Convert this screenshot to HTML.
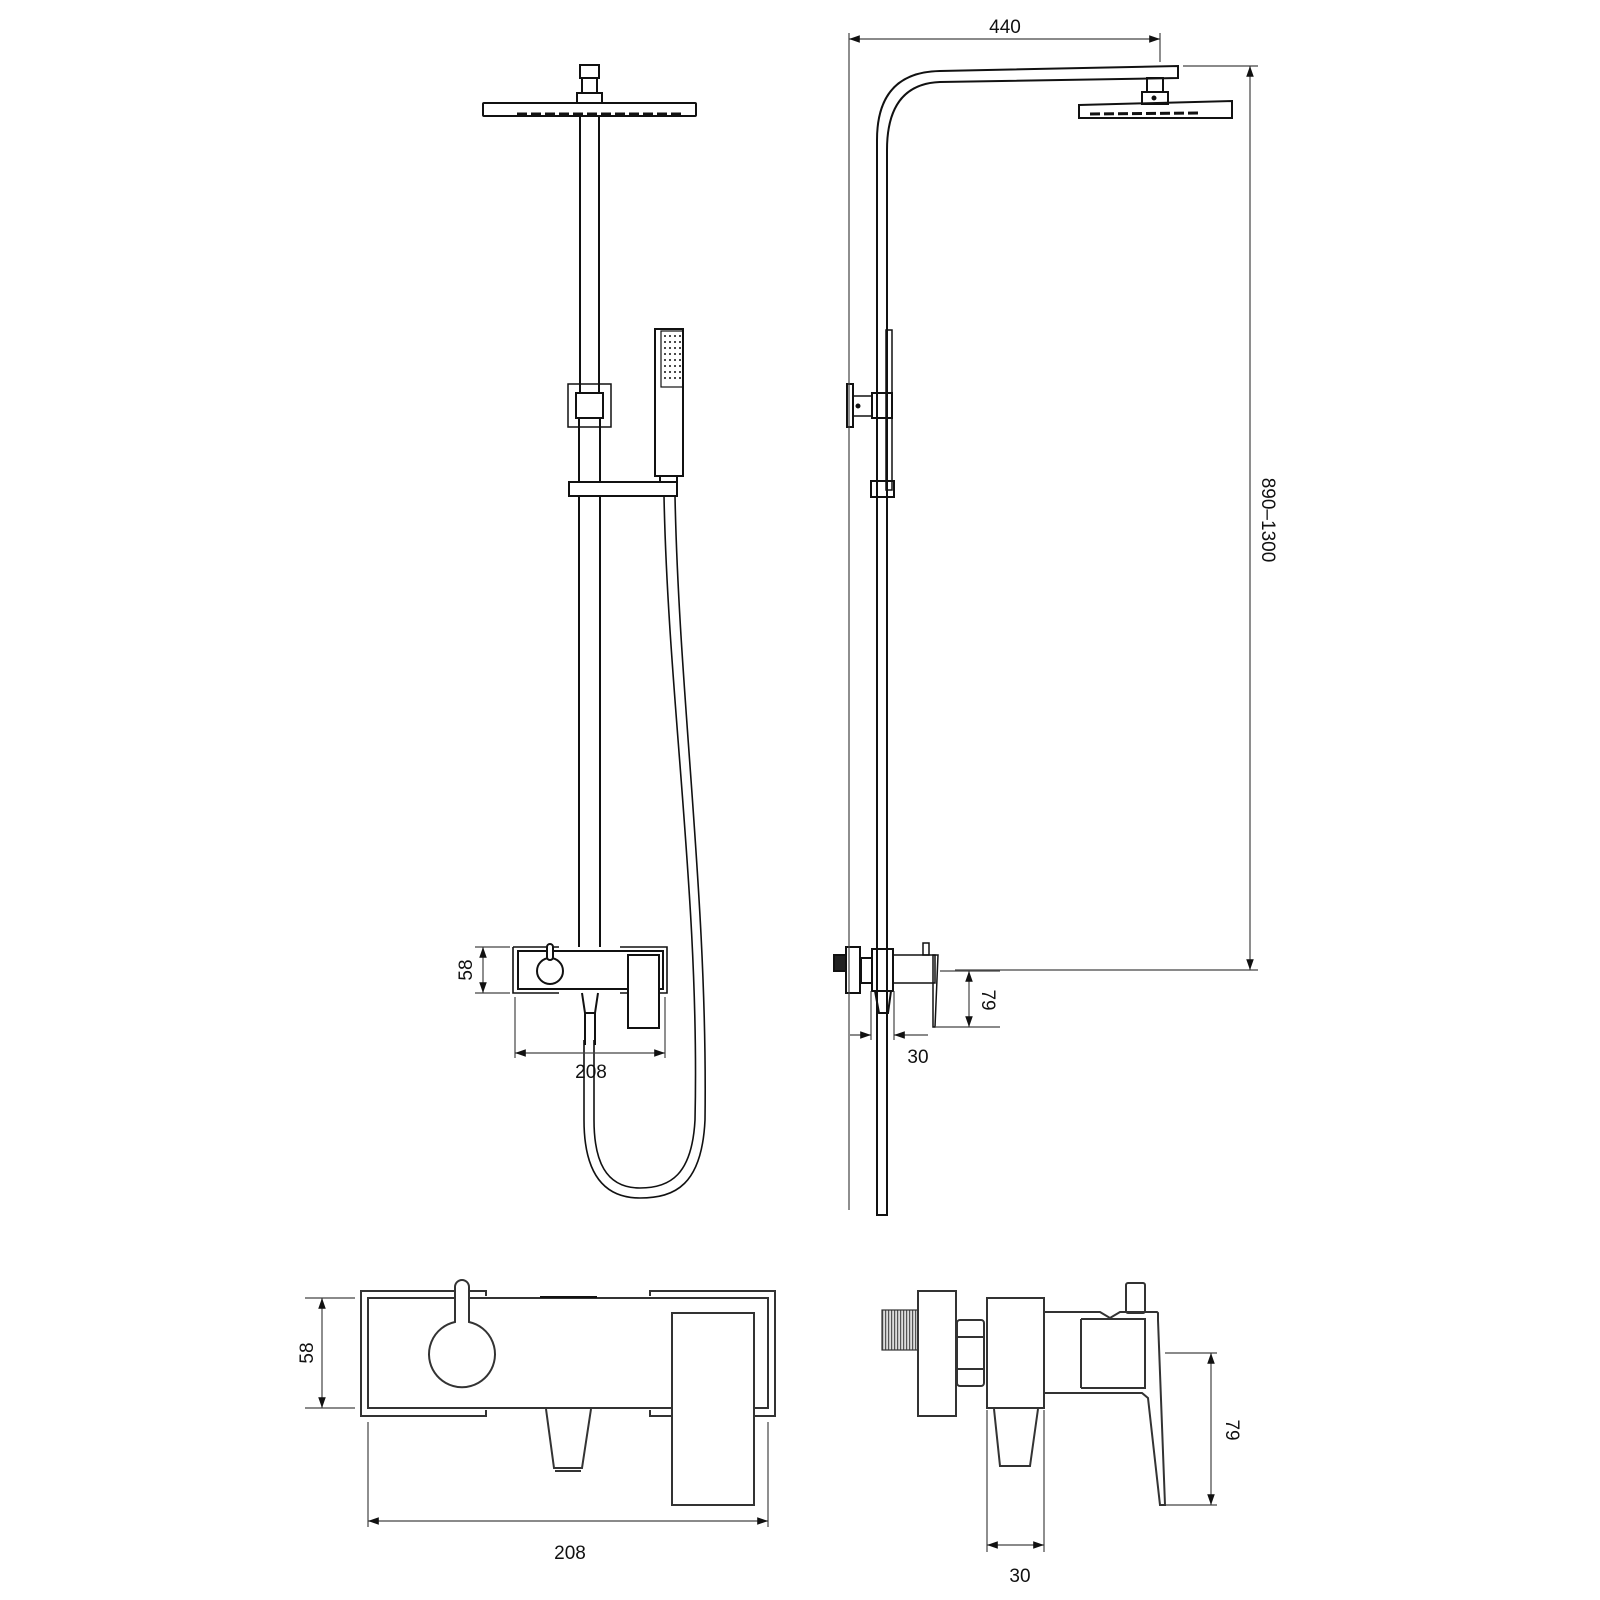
<!DOCTYPE html>
<html><head><meta charset="utf-8"><style>html,body{margin:0;padding:0;background:#fff}svg{display:block}</style></head>
<body>
<svg width="1600" height="1600" viewBox="0 0 1600 1600" xmlns="http://www.w3.org/2000/svg" font-family="Liberation Sans, sans-serif">
<defs>
<marker id="a" viewBox="0 0 10 10" refX="10" refY="5" markerWidth="9" markerHeight="9" orient="auto-start-reverse"><path d="M0,1.5 L10,5 L0,8.5 z" fill="#111"/></marker>
<pattern id="h" width="3" height="10" patternUnits="userSpaceOnUse"><rect width="3" height="10" fill="#ddd"/><rect width="1.2" height="10" fill="#555"/></pattern>
</defs>
<g fill="none" stroke="#111" stroke-width="2">
<!-- FRONT VIEW -->
<rect x="580" y="65" width="19" height="13"/>
<rect x="582" y="78" width="15" height="15"/>
<rect x="577" y="93" width="25" height="10"/>
<rect x="483" y="103" width="213" height="13" rx="1"/>
<line x1="517" y1="114" x2="684" y2="114" stroke-width="3" stroke-dasharray="10,4"/>
<line x1="580" y1="116" x2="580" y2="393"/><line x1="599" y1="116" x2="599" y2="393"/>
<rect x="568" y="384" width="43" height="43" stroke-width="1.5"/>
<rect x="576" y="393" width="27" height="25"/>
<line x1="579" y1="418" x2="579" y2="482"/><line x1="600" y1="418" x2="600" y2="482"/>
<rect x="569" y="482" width="108" height="14"/>
<line x1="579" y1="496" x2="579" y2="947"/><line x1="600" y1="496" x2="600" y2="947"/>
<rect x="655" y="329" width="28" height="147"/>
<rect x="661" y="331" width="22" height="56" stroke-width="1.2"/>
<rect x="660" y="476" width="17" height="6"/>
<!-- hose -->
<path d="M664,496 C668,700 700,900 695,1120 C692,1175 670,1188 640,1188 C605,1188 594,1160 594,1120 L594,1040" stroke-width="1.6"/>
<path d="M675,496 C679,700 708,900 705,1120 C702,1185 675,1198 640,1198 C598,1198 584,1165 584,1120 L584,1040" stroke-width="1.6"/>
<!-- mixer front small -->
<path d="M513,947 H559 M513,947 V993 H559 M620,947 H667 V993 H620" stroke-width="1.6"/>
<rect x="518" y="951" width="145" height="38"/>
<circle cx="550" cy="971" r="13"/>
<rect x="547" y="944" width="6" height="16" rx="3" fill="#fff"/>
<rect x="628" y="955" width="31" height="73" fill="#fff"/>
<path d="M582,993 L585,1013 H595 L598,993"/>
<line x1="585" y1="1013" x2="585" y2="1045"/><line x1="595" y1="1013" x2="595" y2="1045"/>
<!-- SIDE VIEW -->
<path d="M877,1215 V140 Q877,72 940,71 L1178,66 V78 L940,82 Q887,84 887,150 V1215 Z"/>
<rect x="1147" y="78" width="16" height="14"/>
<rect x="1142" y="92" width="26" height="12"/>
<circle cx="1154" cy="98" r="1.5" fill="#111"/>
<path d="M1079,105 L1232,101 V118 L1079,118 Z"/>
<line x1="1090" y1="114" x2="1198" y2="113" stroke-width="3" stroke-dasharray="10,4"/>
<rect x="886" y="330" width="6" height="160" stroke-width="1.5"/>
<rect x="847" y="384" width="6" height="43"/>
<rect x="853" y="396" width="19" height="20" stroke-width="1.5"/>
<circle cx="858" cy="406" r="1.5" fill="#111"/>
<rect x="872" y="393" width="20" height="25"/>
<rect x="871" y="481" width="23" height="16"/>
<rect x="846" y="947" width="14" height="46"/>
<rect x="834" y="955" width="12" height="16" fill="#222"/>
<rect x="861" y="958" width="11" height="25"/>
<rect x="872" y="949" width="21" height="42"/>
<rect x="893" y="955" width="42" height="28" stroke-width="1.5"/>
<rect x="923" y="943" width="6" height="12" stroke-width="1.5"/>
<path d="M933,955 H938 L935,1027 H933 Z" stroke-width="1.5"/>
<path d="M875,991 L879,1013 H888 L891,991"/>
</g>
<g fill="none" stroke="#444" stroke-width="1.2">
<line x1="871" y1="991" x2="871" y2="1040"/><line x1="894" y1="991" x2="894" y2="1040"/>
<line x1="849" y1="33" x2="849" y2="1210"/>
<line x1="1160" y1="33" x2="1160" y2="62"/>
<line x1="849" y1="39" x2="1160" y2="39" marker-start="url(#a)" marker-end="url(#a)"/>
<line x1="1183" y1="66" x2="1258" y2="66"/>
<line x1="955" y1="970" x2="1258" y2="970"/>
<line x1="1250" y1="66" x2="1250" y2="970" marker-start="url(#a)" marker-end="url(#a)"/>
<line x1="940" y1="971" x2="1000" y2="971"/><line x1="935" y1="1027" x2="1000" y2="1027"/>
<line x1="969" y1="971" x2="969" y2="1027" marker-start="url(#a)" marker-end="url(#a)"/>
<line x1="850" y1="1035" x2="871" y2="1035" marker-end="url(#a)"/>
<line x1="928" y1="1035" x2="894" y2="1035" marker-end="url(#a)"/>
<line x1="475" y1="947" x2="510" y2="947"/><line x1="475" y1="993" x2="510" y2="993"/>
<line x1="483" y1="947" x2="483" y2="993" marker-start="url(#a)" marker-end="url(#a)"/>
<line x1="515" y1="997" x2="515" y2="1058"/><line x1="665" y1="997" x2="665" y2="1058"/>
<line x1="515" y1="1053" x2="665" y2="1053" marker-start="url(#a)" marker-end="url(#a)"/>
<!-- bottom dims -->
<line x1="305" y1="1298" x2="355" y2="1298"/><line x1="305" y1="1408" x2="355" y2="1408"/>
<line x1="322" y1="1298" x2="322" y2="1408" marker-start="url(#a)" marker-end="url(#a)"/>
<line x1="368" y1="1422" x2="368" y2="1527"/><line x1="768" y1="1422" x2="768" y2="1527"/>
<line x1="368" y1="1521" x2="768" y2="1521" marker-start="url(#a)" marker-end="url(#a)"/>
<line x1="1165" y1="1353" x2="1217" y2="1353"/><line x1="1160" y1="1505" x2="1217" y2="1505"/>
<line x1="1211" y1="1353" x2="1211" y2="1505" marker-start="url(#a)" marker-end="url(#a)"/>
<line x1="987" y1="1410" x2="987" y2="1552"/><line x1="1044" y1="1410" x2="1044" y2="1552"/>
<line x1="987" y1="1545" x2="1044" y2="1545" marker-start="url(#a)" marker-end="url(#a)"/>
</g>
<g fill="none" stroke="#333" stroke-width="2">
<!-- big front mixer -->
<path d="M486,1296 V1291 H361 V1416 H486 V1410"/>
<path d="M650,1296 V1291 H775 V1416 H754 M672,1416 H650 V1410"/>
<rect x="368" y="1298" width="400" height="110"/>
<line x1="540" y1="1297" x2="597" y2="1297" stroke="#111"/>
<path d="M455,1322 V1287 A7,7 0 0 1 469,1287 V1322 A33,33 0 1 1 455,1322 Z" fill="#fff"/>
<rect x="672" y="1313" width="82" height="192" fill="#fff"/>
<path d="M546,1409 L554,1468 H582 L591,1409"/>
<line x1="555" y1="1471" x2="581" y2="1471"/>
<!-- big side mixer -->
<rect x="882" y="1310" width="36" height="40" fill="url(#h)" stroke-width="1.2"/>
<rect x="918" y="1291" width="38" height="125"/>
<rect x="957" y="1320" width="27" height="66" rx="3"/>
<line x1="957" y1="1337" x2="984" y2="1337"/><line x1="957" y1="1369" x2="984" y2="1369"/>
<rect x="987" y="1298" width="57" height="110"/>
<path d="M1044,1312 H1100 L1110,1318 L1120,1312 H1157 L1158,1313 V1320 L1165,1505 H1160 L1148,1398 L1142,1393 H1044"/>
<line x1="1081" y1="1319" x2="1081" y2="1388"/>
<path d="M1081,1319 H1145 V1388 H1081"/>
<rect x="1126" y="1283" width="19" height="30" rx="2"/>
<path d="M994,1409 L1000,1466 H1030 L1038,1409"/>
</g>
<g fill="#111" font-size="19">
<text x="1005" y="33" text-anchor="middle">440</text>
<text x="591" y="1078" text-anchor="middle">208</text>
<text x="918" y="1063" text-anchor="middle">30</text>
<text x="570" y="1559" text-anchor="middle">208</text>
<text x="1020" y="1582" text-anchor="middle">30</text>
<text transform="translate(472,970) rotate(-90)" text-anchor="middle">58</text>
<text transform="translate(313,1353) rotate(-90)" text-anchor="middle">58</text>
<text transform="translate(982,1000) rotate(90)" text-anchor="middle">79</text>
<text transform="translate(1226,1430) rotate(90)" text-anchor="middle">79</text>
<text transform="translate(1262,520) rotate(90)" text-anchor="middle">890–1300</text>
</g>
<g fill="#111">
<g id="d"><circle cx="665" cy="336" r="1"/><circle cx="670" cy="336" r="1"/><circle cx="675" cy="336" r="1"/><circle cx="680" cy="336" r="1"/></g>
<use href="#d" y="6"/><use href="#d" y="12"/><use href="#d" y="18"/><use href="#d" y="24"/><use href="#d" y="30"/><use href="#d" y="36"/><use href="#d" y="42"/>
</g>
</svg>
</body></html>
